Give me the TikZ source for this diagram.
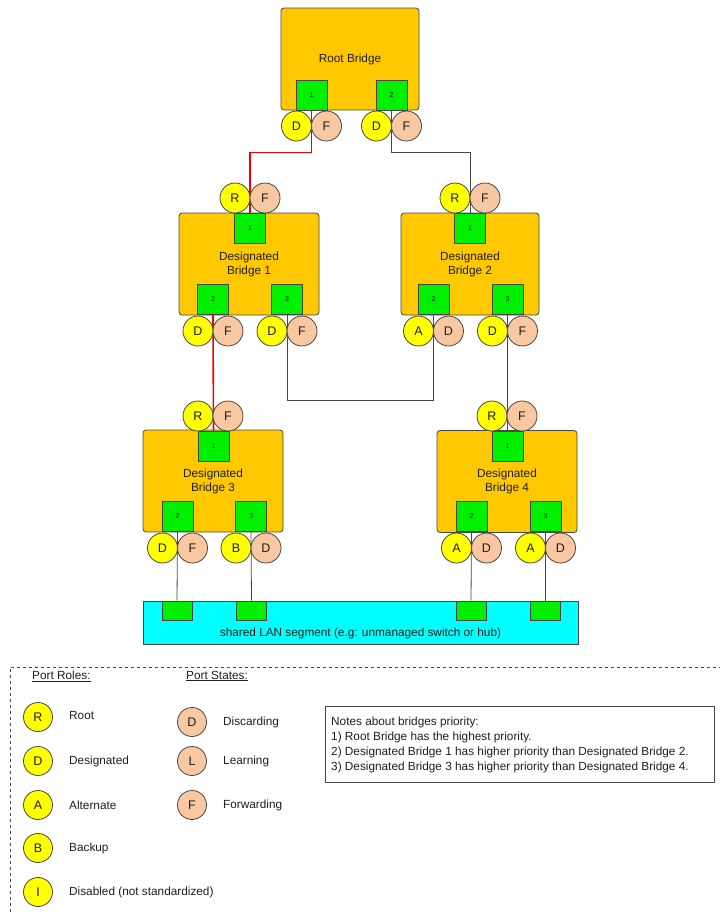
\documentclass[tikz,border=0pt]{standalone}
\usepackage{fontspec}
\setmainfont{Liberation Sans}
\definecolor{bridgeor}{RGB}{255,200,0}
\definecolor{portgreen}{RGB}{0,240,0}
\definecolor{roleyel}{RGB}{255,255,0}
\definecolor{statepeach}{RGB}{250,200,160}
\definecolor{lancyan}{RGB}{0,255,255}
\definecolor{edgegray}{RGB}{70,70,70}
\definecolor{txt}{RGB}{30,30,30}
\definecolor{linkred}{RGB}{240,0,0}
\begin{document}
\begin{tikzpicture}[x=1pt,y=-1pt,
  bridge/.style={draw=edgegray,fill=bridgeor,rounded corners=3pt,minimum width=#1,minimum height=102pt,align=center,text=txt,font=\fontsize{11.8}{14}\selectfont,line width=0.8pt},
  bridge/.default=139pt,
  port/.style={draw=edgegray,fill=portgreen,minimum width=31pt,minimum height=30pt,inner sep=0pt,font=\fontsize{7}{8}\selectfont,text=txt,line width=0.8pt},
  lanport/.style={draw=edgegray,fill=portgreen,minimum width=30pt,minimum height=19pt,inner sep=0pt,line width=0.8pt},
  role/.style={circle,draw=edgegray,fill=roleyel,minimum size=30pt,inner sep=0pt,font=\fontsize{12.5}{14}\selectfont,text=txt,line width=0.8pt},
  pstate/.style={circle,draw=edgegray,fill=statepeach,minimum size=30pt,inner sep=0pt,font=\fontsize{12.5}{14}\selectfont,text=txt,line width=0.8pt},
  lbl/.style={anchor=west,font=\fontsize{11.8}{14}\selectfont,text=txt,inner sep=0pt},
  link/.style={draw=edgegray,line width=0.8pt},
  redlink/.style={draw=linkred,line width=1.6pt}
]
\useasboundingbox (0,0) rectangle (720,914);

% ---------------- bridges ----------------
\node[bridge=138pt] (rb) at (350,59) {Root Bridge};
\node[bridge=140pt] (b1) at (249,264) {Designated\\Bridge 1};
\node[bridge=138pt] (b2) at (470,264) {Designated\\Bridge 2};
\node[bridge=140pt] (b3) at (213,481) {Designated\\Bridge 3};
\node[bridge=140pt] (b4) at (507,481.5) {Designated\\Bridge 4};

% ports
\node[port] (rp1) at (311.5,95) {1};
\node[port] (rp2) at (391.5,95) {2};
\node[port] (b1p1) at (250,228) {1};
\node[port] (b1p2) at (213,299) {2};
\node[port] (b1p3) at (287,299) {3};
\node[port] (b2p1) at (470,228) {1};
\node[port] (b2p2) at (433.5,299) {2};
\node[port] (b2p3) at (507.5,299) {3};
\node[port] (b3p1) at (213.5,446) {1};
\node[port] (b3p2) at (177.5,516.5) {2};
\node[port] (b3p3) at (251,516.5) {3};
\node[port] (b4p1) at (507.5,446) {1};
\node[port] (b4p2) at (471.5,516.5) {2};
\node[port] (b4p3) at (545.5,516.5) {3};

% LAN segment
\node[draw=edgegray,fill=lancyan,minimum width=435pt,minimum height=43pt,inner sep=0pt,line width=0.8pt] (lan) at (360.5,622.5) {};
\node[font=\fontsize{11.8}{14}\selectfont,text=txt,inner sep=0pt] (lantext) at (360.5,633) {shared LAN segment (e.g: unmanaged switch or hub)};
\node[lanport] (la) at (177,610.5) {};
\node[lanport] (lb) at (251.5,610.5) {};
\node[lanport] (lc) at (471,610.5) {};
\node[lanport] (ld) at (545.5,610.5) {};

% ---------------- connectors ----------------
\draw[redlink] (rp1.south) -- ++(0,42) -| (b1p1.north);
\draw[link] (rp2.south) -- ++(0,42) -| (b2p1.north);
\draw[redlink] (b1p2.south) -- (b3p1.north);
\draw[link] (b1p3.south) -- ++(0,86) -| (b2p2.south);
\draw[link] (b2p3.south) -- (b4p1.north);
\draw[link] (b3p2.south) -- (la.north);
\draw[link] (b3p3.south) -- (lb.north);
\draw[link] (b4p2.south) -- (lc.north);
\draw[link] (b4p3.south) -- (ld.north);

% ---------------- port role/state circles ----------------
% Root bridge
\node[role] (rr1) at (296.5,126) {D};
\node[pstate] (rs1) at (326.5,126) {F};
\node[role] (rr2) at (376.5,126) {D};
\node[pstate] (rs2) at (406.5,126) {F};
% Bridge 1
\node[role] (b1r1) at (235,198) {R};
\node[pstate] (b1s1) at (265,198) {F};
\node[role] (b1r2) at (198,331) {D};
\node[pstate] (b1s2) at (228,331) {F};
\node[role] (b1r3) at (272,331) {D};
\node[pstate] (b1s3) at (302,331) {F};
% Bridge 2
\node[role] (b2r1) at (455,198) {R};
\node[pstate] (b2s1) at (485,198) {F};
\node[role] (b2r2) at (418.5,331) {A};
\node[pstate] (b2s2) at (448.5,331) {D};
\node[role] (b2r3) at (492.5,331) {D};
\node[pstate] (b2s3) at (522.5,331) {F};
% Bridge 3
\node[role] (b3r1) at (198,416) {R};
\node[pstate] (b3s1) at (228,416) {F};
\node[role] (b3r2) at (162.5,548) {D};
\node[pstate] (b3s2) at (192.5,548) {F};
\node[role] (b3r3) at (236,548) {B};
\node[pstate] (b3s3) at (266,548) {D};
% Bridge 4
\node[role] (b4r1) at (492,416) {R};
\node[pstate] (b4s1) at (522,416) {F};
\node[role] (b4r2) at (456.5,548) {A};
\node[pstate] (b4s2) at (486.5,548) {D};
\node[role] (b4r3) at (530.5,548) {A};
\node[pstate] (b4s3) at (560.5,548) {D};

% ---------------- legend ----------------
\draw[edgegray,dashed,line width=0.8pt] (722,667) -- (10,667) -- (10,916);
\node[lbl] (rolesh) at (32,676) {\underline{Port Roles:}};
\node[lbl] (statesh) at (186,676) {\underline{Port States:}};

\node[role,minimum size=29pt] (lr) at (38,717) {R};
\node[lbl] (lrt) at (69,715) {Root};
\node[role,minimum size=29pt] (ld2) at (38,761) {D};
\node[lbl] (ldt) at (69,761) {Designated};
\node[role,minimum size=29pt] (la2) at (38,805) {A};
\node[lbl] (lat) at (69,805) {Alternate};
\node[role,minimum size=29pt] (lb2) at (38,848) {B};
\node[lbl] (lbt) at (69,848) {Backup};
\node[role,minimum size=29pt] (li) at (38,892) {I};
\node[lbl] (lit) at (69,892) {Disabled (not standardized)};

\node[pstate,minimum size=29pt] (sd) at (192,722) {D};
\node[lbl] (sdt) at (223,722) {Discarding};
\node[pstate,minimum size=29pt] (sl) at (192,761) {L};
\node[lbl] (slt) at (223,761) {Learning};
\node[pstate,minimum size=29pt] (sf) at (192,805) {F};
\node[lbl] (sft) at (223,805) {Forwarding};

% notes
\node[draw=edgegray,line width=0.8pt,minimum width=389pt,minimum height=76pt,inner sep=0pt] (notes) at (519.5,744) {};
\node[anchor=west,align=left,inner sep=0pt,text=txt,font=\fontsize{11.8}{15}\selectfont] (notestext) at (331,744.5) {Notes about bridges priority:\\1) Root Bridge has the highest priority.\\2) Designated Bridge 1 has higher priority than Designated Bridge 2.\\3) Designated Bridge 3 has higher priority than Designated Bridge 4.};
\end{tikzpicture}
\end{document}
